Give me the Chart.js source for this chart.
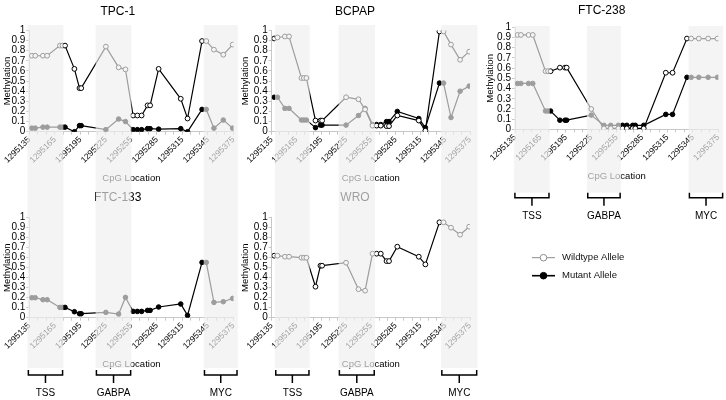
<!DOCTYPE html>
<html>
<head>
<meta charset="utf-8">
<script src="https://cdn.jsdelivr.net/npm/chart.js@4.4.1/dist/chart.umd.min.js"></script>
<style>
  html, body { margin: 0; padding: 0; background: #fff; }
  #wrap { position: relative; width: 726px; height: 400px; overflow: hidden; }
  canvas { position: absolute; }
</style>
</head>
<body>
<div id="wrap">
  <canvas id="cA" width="245" height="190" style="left:0;top:0"></canvas>
  <canvas id="cD" width="245" height="210" style="left:0;top:190px"></canvas>
  <canvas id="cB" width="240" height="190" style="left:238px;top:0"></canvas>
  <canvas id="cE" width="240" height="210" style="left:238px;top:190px"></canvas>
  <canvas id="cC" width="241" height="400" style="left:485px;top:0"></canvas>
</div>
<script>
// === Data ===
const cpgSites = [1295138, 1295142, 1295151, 1295156, 1295171, 1295174, 1295177, 1295188, 1295194, 1295196,
  1295225, 1295240, 1295248, 1295257, 1295262, 1295267, 1295274, 1295277, 1295287, 1295313,
  1295321, 1295338, 1295343, 1295352, 1295363, 1295374];
const xLabels = [1295135, 1295165, 1295195, 1295225, 1295255, 1295285, 1295315, 1295345, 1295375];

const tpc1Wild = [0.75, 0.75, 0.75, 0.75, 0.85, 0.85, 0.85, 0.62, 0.43, 0.43, 0.84, 0.635, 0.615,
  0.16, 0.16, 0.16, 0.26, 0.26, 0.62, 0.325, 0.13, 0.895, 0.895, 0.81, 0.76, 0.86];
const tpc1Mut = [0.035, 0.035, 0.045, 0.045, 0.045, 0.045, 0.045, 0.0, 0.06, 0.06, 0.02, 0.125, 0.1,
  0.02, 0.02, 0.02, 0.03, 0.03, 0.025, 0.03, 0.0, 0.22, 0.22, 0.035, 0.115, 0.035];

const bcpapWild = [0.92, 0.93, 0.94, 0.94, 0.53, 0.53, 0.53, 0.11, 0.11, 0.11, 0.34, 0.32, 0.22,
  0.06, 0.06, 0.06, 0.055, 0.055, 0.16, 0.11, 0.01, 0.99, 0.99, 0.86, 0.71, 0.79];
const bcpapMut = [0.34, 0.34, 0.23, 0.23, 0.115, 0.115, 0.115, 0.04, 0.065, 0.065, 0.065, 0.16, 0.23,
  0.07, 0.07, 0.07, 0.1, 0.1, 0.2, 0.13, 0.04, 0.48, 0.48, 0.14, 0.4, 0.45];

const ftc238Wild = [0.925, 0.925, 0.925, 0.925, 0.57, 0.57, 0.57, 0.605, 0.605, 0.605, 0.2, 0.01, 0.01,
  0.01, 0.01, 0.01, 0.01, 0.01, 0.01, 0.555, 0.555, 0.89, 0.89, 0.89, 0.89, 0.89];
const ftc238Mut = [0.45, 0.45, 0.45, 0.45, 0.18, 0.18, 0.18, 0.09, 0.09, 0.09, 0.14, 0.04, 0.04,
  0.04, 0.04, 0.04, 0.04, 0.04, 0.04, 0.147, 0.147, 0.51, 0.51, 0.51, 0.51, 0.51];

const ftc133Mut = [0.2, 0.2, 0.18, 0.18, 0.103, 0.103, 0.103, 0.06, 0.04, 0.04, 0.053, 0.037, 0.203,
  0.063, 0.063, 0.063, 0.073, 0.073, 0.107, 0.137, 0.023, 0.553, 0.553, 0.153, 0.16, 0.193];

const wroWild = [0.62, 0.62, 0.61, 0.61, 0.6, 0.6, 0.6, 0.31, 0.52, 0.52, 0.55, 0.285, 0.27,
  0.64, 0.64, 0.64, 0.566, 0.566, 0.71, 0.61, 0.533, 0.954, 0.954, 0.9, 0.83, 0.91];

// shaded regions (CpG coordinates) and their names
const regionNames = ["TSS", "GABPA", "MYC"];
const bandsLeft = [[1295133, 1295175], [1295213, 1295255], [1295340, 1295380]];
const bandsMid = [[1295139, 1295181], [1295216, 1295260], [1295340, 1295384]];
const bandsRight = [[1295134, 1295176], [1295220, 1295260], [1295340, 1295381]];

// === Style ===
Chart.defaults.font.family = '"Liberation Sans", Arial, sans-serif';
Chart.defaults.color = "#000";
const AXIS_GREY = "#c8c8c8";
const BAND_FILL = "rgba(239,239,239,0.66)";

function pts(vals) {
  return cpgSites.map((x, i) => ({ x: x, y: vals[i] }));
}
function wildSet(vals) {
  return {
    label: "Wildtype Allele", data: pts(vals),
    borderColor: "#000", borderWidth: 1.2,
    pointRadius: 2.4, pointBorderWidth: 1,
    pointBackgroundColor: "#fff", pointBorderColor: "#000",
  };
}
function mutSet(vals) {
  return {
    label: "Mutant Allele", data: pts(vals),
    borderColor: "#000", borderWidth: 1.2,
    pointRadius: 2.3, pointBorderWidth: 1,
    pointBackgroundColor: "#000", pointBorderColor: "#000",
  };
}

// === Bands, brackets, legend ===
const bandPlugin = {
  id: "bands",
  afterDraw(chart, args, o) {
    const ctx = chart.ctx;
    const xs = chart.scales.x;
    ctx.save();
    ctx.fillStyle = BAND_FILL;
    o.ranges.forEach(r => {
      const x0 = xs.getPixelForValue(r[0]);
      const x1 = xs.getPixelForValue(r[1]);
      ctx.fillRect(x0, o.top, x1 - x0, o.bottom - o.top);
    });

    if (o.bracketTop != null) {
      const t = o.bracketTop;
      ctx.strokeStyle = "#000";
      ctx.lineWidth = 1.5;
      ctx.fillStyle = "#000";
      ctx.font = '10px "Liberation Sans", Arial, sans-serif';
      ctx.textAlign = "center";
      ctx.textBaseline = "middle";
      o.ranges.forEach((r, i) => {
        const x0 = xs.getPixelForValue(r[0]);
        const x1 = xs.getPixelForValue(r[1]);
        const xc = (x0 + x1) / 2;
        ctx.beginPath();
        ctx.moveTo(x0 + 0.75, t);
        ctx.lineTo(x0 + 0.75, t + 5);
        ctx.lineTo(x1 - 0.75, t + 5);
        ctx.lineTo(x1 - 0.75, t);
        ctx.moveTo(xc, t + 5);
        ctx.lineTo(xc, t + 13);
        ctx.stroke();
        ctx.fillText(regionNames[i], xc, t + 23.5);
      });
    }

    if (o.legend) {
      const L = o.legend;
      ctx.font = '9.5px "Liberation Sans", Arial, sans-serif';
      ctx.textAlign = "left";
      ctx.textBaseline = "middle";
      const rows = [
        { text: "Wildtype Allele", line: "#8c8c8c", fill: "#fff", w: 1 },
        { text: "Mutant Allele", line: "#000", fill: "#000", w: 1.6 },
      ];
      rows.forEach((r, i) => {
        const y = L.y + i * L.dy;
        ctx.strokeStyle = r.line;
        ctx.lineWidth = r.w;
        ctx.beginPath();
        ctx.moveTo(L.x, y);
        ctx.lineTo(L.x + 23, y);
        ctx.stroke();
        ctx.beginPath();
        ctx.arc(L.x + 11.5, y, 3.3, 0, Math.PI * 2);
        ctx.fillStyle = r.fill;
        ctx.fill();
        ctx.lineWidth = 1;
        ctx.stroke();
        ctx.fillStyle = "#111";
        ctx.fillText(r.text, L.x + 30, y);
      });
    }
    ctx.restore();
  },
};

// === Panel ===
function makePanel(id, title, datasets, p) {
  new Chart(document.getElementById(id), {
    type: "line",
    data: { datasets: datasets },
    plugins: [bandPlugin],
    options: {
      responsive: false,
      animation: false,
      events: [],
      layout: { padding: p.pad },
      plugins: {
        legend: { display: false },
        tooltip: { enabled: false },
        title: {
          display: true, text: title, color: "#000",
          font: { size: 12, weight: "normal" },
          padding: p.titlePad,
        },
        bands: p.bands,
      },
      scales: {
        x: {
          type: "linear", min: 1295135, max: 1295375,
          ticks: {
            stepSize: 10, autoSkip: false, maxRotation: 45, minRotation: 45,
            padding: 0, color: "#000", font: { size: 8.5 },
            callback: v => (xLabels.includes(v) ? String(v) : ""),
          },
          grid: { drawOnChartArea: false, tickLength: 3, color: AXIS_GREY },
          border: { color: AXIS_GREY },
          title: { display: true, text: "CpG Location", color: "#000", font: { size: 9.5 }, padding: 0 },
          afterFit(s) { s.height = 52.3; s.paddingLeft = 0; s.paddingRight = 0; },
        },
        y: {
          min: 0, max: 1,
          ticks: {
            stepSize: 0.1, autoSkip: false, padding: 1, color: "#000", font: { size: 10 },
            callback: v => String(Math.round(v * 10) / 10),
          },
          grid: { drawOnChartArea: false, tickLength: 3, color: AXIS_GREY },
          border: { color: AXIS_GREY },
          title: { display: true, text: "Methylation", color: "#000", font: { size: 9.5 }, padding: 0 },
          afterFit(s) { s.width = p.yWidth; s.paddingTop = 0; s.paddingBottom = 0; },
        },
      },
    },
  });
}

makePanel("cA", "TPC-1", [wildSet(tpc1Wild), mutSet(tpc1Mut)], {
  pad: { left: 2, right: 11.5, top: 0, bottom: 6 }, titlePad: { top: 4, bottom: 12 }, yWidth: 27.3,
  bands: { ranges: bandsLeft, top: 25, bottom: 190 },
});
makePanel("cD", "FTC-133", [mutSet(ftc133Mut)], {
  pad: { left: 2, right: 11.5, top: 0, bottom: 30 }, titlePad: { top: 0, bottom: 13.3 }, yWidth: 27.3,
  bands: { ranges: bandsLeft, top: 0, bottom: 178, bracketTop: 180 },
});
makePanel("cB", "BCPAP", [wildSet(bcpapWild), mutSet(bcpapMut)], {
  pad: { left: 2, right: 8, top: 0, bottom: 6 }, titlePad: { top: 4, bottom: 12 }, yWidth: 31.7,
  bands: { ranges: bandsMid, top: 25, bottom: 190 },
});
makePanel("cE", "WRO", [wildSet(wroWild)], {
  pad: { left: 2, right: 8, top: 0, bottom: 30 }, titlePad: { top: 0, bottom: 13.3 }, yWidth: 31.7,
  bands: { ranges: bandsMid, top: 0, bottom: 178, bracketTop: 180 },
});
makePanel("cC", "FTC-238", [wildSet(ftc238Wild), mutSet(ftc238Mut)], {
  pad: { left: 0, right: 7.7, top: 0, bottom: 218.3 }, titlePad: { top: 3, bottom: 9.9 }, yWidth: 30,
  bands: { ranges: bandsRight, top: 26, bottom: 192.7, bracketTop: 192.7, legend: { x: 47, y: 257.7, dy: 18 } },
});
</script>
</body>
</html>
